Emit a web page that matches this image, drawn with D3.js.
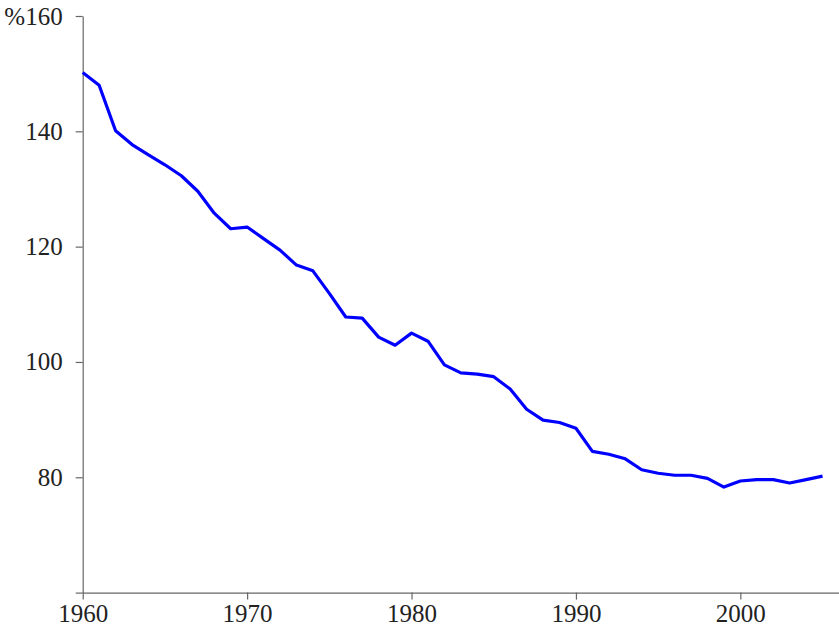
<!DOCTYPE html>
<html>
<head>
<meta charset="utf-8">
<script src="https://cdn.jsdelivr.net/npm/d3@7"></script>
<style>
  body { margin: 0; background: #fff; }
  .axis path, .axis line { stroke: #666; stroke-width: 1.2; }
</style>
</head>
<body>
<div id="chart"></div>
<script>
// Basic setup
var width = 839,
    height = 628;

// Data
var years = d3.range(1960, 2006);
var values = [
  150.2, 148.0, 140.1, 137.7, 135.9, 134.2, 132.3, 129.6, 125.8, 123.1,
  123.4, 121.4, 119.4, 116.8, 115.8, 111.9, 107.8, 107.6, 104.3, 102.9,
  105.0, 103.6, 99.5, 98.1, 97.9, 97.45, 95.3, 91.8, 89.9, 89.5,
  88.5, 84.5, 84.0, 83.2, 81.3, 80.7, 80.35, 80.35, 79.8, 78.3,
  79.35, 79.6, 79.6, 79.0, 79.6, 80.2
];
var xTicks = [1960, 1970, 1980, 1990, 2000];
var yTicks = [60, 80, 100, 120, 140, 160];

var data = years.map(function(y, i) { return { year: y, value: values[i] }; });

var svg = d3.select("#chart").append("svg")
    .attr("width", width)
    .attr("height", height);

var x = d3.scaleLinear()
    .domain([1960, 2006])
    .range([82.7, 839]);

var y = d3.scaleLinear()
    .domain([60, 160])
    .range([592.6, 16]);

// Axes
var xAxis = svg.append("g")
    .attr("class", "axis")
    .attr("transform", "translate(0," + y(60) + ")")
    .call(d3.axisBottom(x)
      .tickValues(xTicks)
      .tickFormat(d3.format("d"))
      .tickSize(7)
      .tickSizeOuter(0)
      .tickPadding(5));

var yAxis = svg.append("g")
    .attr("class", "axis")
    .attr("transform", "translate(" + x(1960) + ",0)")
    .call(d3.axisLeft(y)
      .tickValues(yTicks)
      .tickFormat(function(d) {
        if (d === 60) return "";
        return d === 160 ? "%" + d : d;
      })
      .tickSize(7)
      .tickSizeOuter(0)
      .tickPadding(13));

svg.selectAll(".axis")
    .attr("font-family", "'Liberation Serif', serif")
    .attr("font-size", 25);
svg.selectAll(".axis text").attr("fill", "#222");
svg.selectAll(".axis .domain").attr("stroke", "#666");

// Line
var line = d3.line()
    .x(function(d) { return x(d.year); })
    .y(function(d) { return y(d.value); });

svg.append("path")
    .datum(data)
    .attr("fill", "none")
    .attr("stroke", "#0000ff")
    .attr("stroke-width", 3.2)
    .attr("stroke-linejoin", "round")
    .attr("d", line);
</script>
</body>
</html>
